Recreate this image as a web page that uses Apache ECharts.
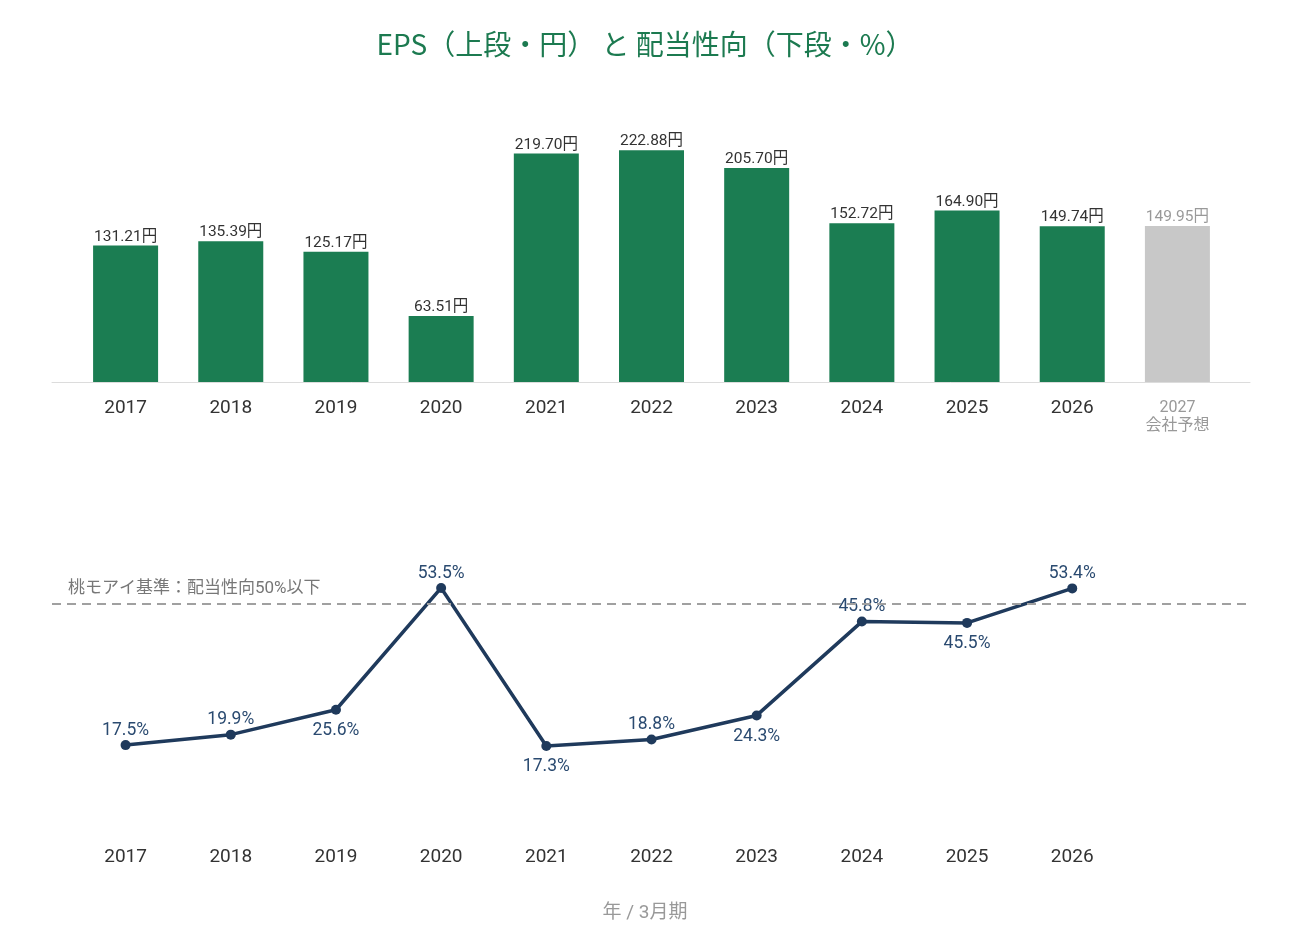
<!DOCTYPE html>
<html><head><meta charset="utf-8">
<script src="https://cdn.jsdelivr.net/npm/echarts@6/dist/echarts.min.js"></script>
<style>html,body{margin:0;padding:0;background:#fff;}#c{width:1290px;height:945px;}</style>
</head><body><div id="c"></div>
<script>
const categories = ['2017','2018','2019','2020','2021','2022','2023','2024','2025','2026','2027'];
const epsValues = [131.21, 135.39, 125.17, 63.51, 219.70, 222.88, 205.70, 152.72, 164.90, 149.74, 149.95];
const payoutValues = [17.5, 19.9, 25.6, 53.5, 17.3, 18.8, 24.3, 45.8, 45.5, 53.4];
const payoutLabelSide = ['top','top','bottom','top','bottom','top','bottom','top','bottom','top'];
const forecastIndex = 10;
const thresholdValue = 50;
const thresholdText = '桃モアイ基準：配当性向50%以下';

const FONT = "Roboto, 'Noto Sans CJK JP', sans-serif";
const CJK = "'Noto Sans CJK JP', sans-serif";
const GREEN = '#1b7d52';
const NAVY = '#1f3a5c';

const barData = epsValues.map((v, i) => i === forecastIndex ? {
  value: v, itemStyle: {color: '#c8c8c8'}, label: {color: '#999'}
} : v);

const lineData = payoutValues.map((v, i) => ({
  value: v,
  label: {position: payoutLabelSide[i], distance: payoutLabelSide[i] === 'top' ? 1 : 7}
}));

const chart = echarts.init(document.getElementById('c'));
chart.setOption({
  animation: false,
  textStyle: {fontFamily: FONT},
  title: [
    {text: 'EPS（上段・円） と 配当性向（下段・%）', left: 'center', top: 25,
     textStyle: {color: '#1c7a50', fontSize: 28, fontWeight: 'normal', fontFamily: CJK}},
    {text: '年 / 3月期', left: 'center', top: 899,
     textStyle: {color: '#999', fontSize: 19, fontWeight: 'normal', fontFamily: FONT}}
  ],
  grid: [
    {left: 73, right: 60, top: 122, bottom: 563},
    {left: 52, right: 40, top: 122, bottom: 563},
    {left: 73, right: 60, top: 559.6, bottom: 123.5},
    {left: 52, right: 40, top: 559.6, bottom: 123.5}
  ],
  xAxis: [
    {gridIndex: 0, type: 'category', data: categories,
     axisLine: {show: false}, axisTick: {show: false},
     axisLabel: {interval: 0, margin: 17, fontSize: 19, color: '#333', fontFamily: FONT,
       formatter: (v, i) => i === forecastIndex ? '{f|' + v + '}\n{f|会社予想}' : v,
       rich: {f: {fontSize: 16, color: '#999', lineHeight: 18, fontFamily: FONT}}}},
    {gridIndex: 1, type: 'value', min: 0, max: 1,
     axisLine: {show: true, lineStyle: {color: '#dcdcdc', width: 1}},
     axisTick: {show: false}, axisLabel: {show: false}, splitLine: {show: false}},
    {gridIndex: 2, type: 'category', data: categories.map((c, i) => i === forecastIndex ? '' : c),
     axisLine: {show: false}, axisTick: {show: false},
     axisLabel: {interval: 0, margin: 26, fontSize: 19, color: '#333', fontFamily: FONT}},
    {gridIndex: 3, type: 'value', min: 0, max: 1, show: false}
  ],
  yAxis: [
    {gridIndex: 0, type: 'value', min: 0, max: 250, show: false},
    {gridIndex: 1, type: 'value', min: 0, max: 1, show: false},
    {gridIndex: 2, type: 'value', min: 0, max: 60, show: false},
    {gridIndex: 3, type: 'value', min: 0, max: 60, show: false}
  ],
  series: [
    {type: 'bar', xAxisIndex: 0, yAxisIndex: 0, data: barData, barWidth: 65,
     itemStyle: {color: GREEN},
     label: {show: true, position: 'top', distance: 1, fontSize: 15.5, color: '#333', fontFamily: FONT,
       formatter: p => p.value.toFixed(2) + '円'}},
    {type: 'line', xAxisIndex: 2, yAxisIndex: 2, data: lineData,
     lineStyle: {color: NAVY, width: 3.5}, itemStyle: {color: NAVY},
     symbol: 'circle', symbolSize: 10,
     label: {show: true, fontSize: 17.5, color: '#2a4a70', fontFamily: FONT,
       formatter: p => p.value.toFixed(1) + '%'}},
    {type: 'line', xAxisIndex: 3, yAxisIndex: 3, data: [], silent: true,
     markLine: {symbol: 'none', silent: true,
       lineStyle: {color: '#a0a0a0', type: [9, 6], width: 2},
       label: {show: true, position: 'insideStartTop', distance: [16, 6], formatter: thresholdText,
         fontSize: 17, color: '#777', fontFamily: FONT},
       data: [{yAxis: thresholdValue}]}}
  ]
});
</script></body></html>
